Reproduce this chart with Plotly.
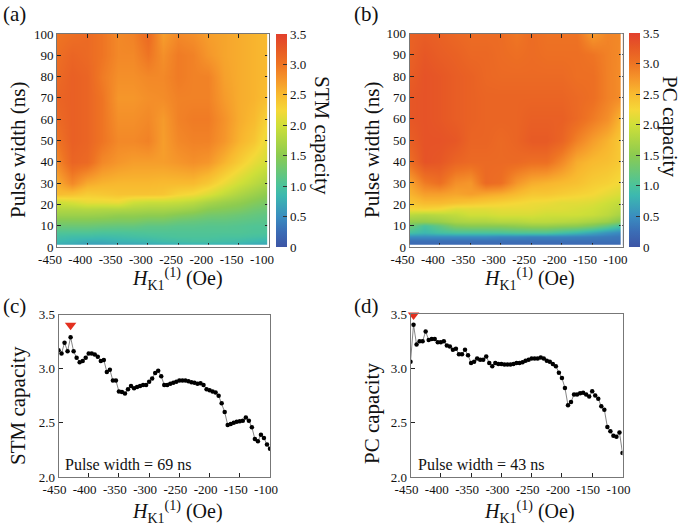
import plotly.graph_objects as go

hk_map = [-450, -425, -400, -375, -350, -325, -300, -275, -250, -225, -200, -175, -150, -125, -100]
pw_map = [1.5, 3, 5, 7, 10, 12, 15, 18, 21, 25, 30, 40, 50, 60, 70, 80, 90, 100]

stm_map = [
    [0.75, 0.72, 0.65, 0.65, 0.70, 0.70, 0.72, 0.75, 0.78, 0.80, 0.80, 0.80, 0.78, 0.72, 0.70],
    [0.85, 0.80, 0.75, 0.75, 0.80, 0.82, 0.85, 0.90, 0.92, 0.95, 0.95, 0.92, 0.90, 0.85, 0.80],
    [0.95, 0.92, 0.92, 0.90, 0.92, 0.95, 0.97, 1.00, 1.02, 1.02, 1.02, 1.00, 1.00, 0.97, 0.95],
    [1.05, 1.05, 1.05, 1.02, 1.02, 1.03, 1.05, 1.05, 1.05, 1.05, 1.05, 1.05, 1.05, 1.03, 1.02],
    [1.25, 1.25, 1.25, 1.22, 1.20, 1.20, 1.15, 1.15, 1.12, 1.12, 1.10, 1.10, 1.08, 1.05, 1.05],
    [1.42, 1.42, 1.42, 1.40, 1.38, 1.38, 1.32, 1.32, 1.25, 1.22, 1.18, 1.18, 1.15, 1.12, 1.10],
    [1.62, 1.62, 1.62, 1.60, 1.55, 1.55, 1.52, 1.52, 1.45, 1.40, 1.32, 1.30, 1.25, 1.20, 1.15],
    [1.78, 1.78, 1.80, 1.78, 1.78, 1.75, 1.72, 1.72, 1.68, 1.62, 1.50, 1.45, 1.40, 1.30, 1.25],
    [1.98, 2.05, 2.15, 2.15, 2.18, 2.00, 1.95, 1.95, 1.92, 1.85, 1.72, 1.62, 1.55, 1.45, 1.35],
    [2.48, 2.45, 2.35, 2.38, 2.42, 2.42, 2.42, 2.40, 2.28, 2.22, 2.08, 1.90, 1.75, 1.62, 1.50],
    [2.60, 2.85, 2.62, 2.55, 2.52, 2.52, 2.52, 2.50, 2.50, 2.50, 2.38, 2.18, 2.00, 1.85, 1.70],
    [2.85, 3.15, 3.10, 2.85, 2.75, 2.70, 2.70, 2.70, 2.75, 2.80, 2.75, 2.55, 2.35, 2.15, 2.00],
    [3.00, 3.20, 3.15, 3.00, 2.85, 2.85, 2.90, 2.70, 2.85, 2.90, 2.90, 2.75, 2.55, 2.40, 2.10],
    [3.10, 3.20, 3.15, 3.00, 2.80, 2.80, 2.85, 2.72, 2.90, 2.95, 2.95, 2.78, 2.60, 2.50, 2.25],
    [3.15, 3.20, 3.15, 3.00, 2.75, 2.75, 2.80, 2.82, 2.90, 2.90, 2.90, 2.72, 2.60, 2.55, 2.45],
    [3.10, 3.20, 3.15, 2.95, 2.80, 2.80, 2.85, 2.85, 2.95, 2.90, 2.90, 2.68, 2.60, 2.55, 2.50],
    [3.05, 3.15, 3.10, 3.00, 2.85, 2.85, 3.00, 2.80, 2.95, 2.90, 2.75, 2.65, 2.60, 2.55, 2.50],
    [3.00, 3.05, 3.10, 3.00, 2.85, 2.90, 3.10, 2.70, 2.85, 2.80, 2.70, 2.65, 2.60, 2.55, 2.50],
]

pc_map = [
    [0.22, 0.22, 0.22, 0.22, 0.22, 0.22, 0.22, 0.22, 0.22, 0.22, 0.22, 0.22, 0.22, 0.22, 0.22],
    [0.28, 0.28, 0.28, 0.28, 0.28, 0.28, 0.28, 0.28, 0.28, 0.28, 0.28, 0.28, 0.28, 0.28, 0.28],
    [0.50, 0.50, 0.50, 0.50, 0.50, 0.50, 0.45, 0.45, 0.42, 0.42, 0.42, 0.40, 0.38, 0.35, 0.32],
    [0.95, 0.85, 0.95, 1.00, 1.00, 1.00, 1.02, 1.05, 1.05, 1.05, 0.95, 0.85, 0.70, 0.55, 0.45],
    [1.30, 1.00, 1.20, 1.45, 1.50, 1.50, 1.50, 1.55, 1.60, 1.60, 1.55, 1.52, 1.40, 1.20, 0.95],
    [1.55, 1.55, 1.60, 1.72, 1.75, 1.75, 1.80, 1.80, 1.85, 1.85, 1.82, 1.78, 1.70, 1.60, 1.40],
    [1.85, 1.80, 1.85, 1.90, 2.00, 2.00, 2.05, 2.05, 2.05, 2.00, 2.00, 2.00, 1.95, 1.85, 1.68],
    [2.25, 2.30, 2.25, 2.10, 2.12, 2.12, 2.15, 2.15, 2.15, 2.10, 2.10, 2.05, 2.00, 1.92, 1.80],
    [2.40, 2.50, 2.50, 2.45, 2.40, 2.35, 2.30, 2.25, 2.20, 2.18, 2.12, 2.12, 2.08, 1.98, 1.88],
    [2.55, 2.70, 2.70, 2.65, 2.70, 2.65, 2.60, 2.50, 2.40, 2.40, 2.35, 2.30, 2.25, 2.15, 2.05],
    [2.65, 2.95, 3.05, 2.80, 2.75, 3.10, 3.05, 2.75, 2.60, 2.55, 2.50, 2.45, 2.35, 2.30, 2.20],
    [3.05, 3.32, 3.28, 3.15, 3.10, 3.10, 3.10, 3.10, 3.05, 3.05, 2.85, 2.60, 2.50, 2.45, 2.35],
    [3.20, 3.32, 3.32, 3.28, 3.15, 3.15, 3.10, 3.15, 3.25, 3.25, 3.15, 2.90, 2.70, 2.55, 2.35],
    [3.28, 3.32, 3.28, 3.22, 3.18, 3.15, 3.15, 3.15, 3.20, 3.20, 3.20, 3.10, 2.95, 2.80, 2.50],
    [3.28, 3.32, 3.28, 3.22, 3.18, 3.15, 3.15, 3.15, 3.15, 3.15, 3.15, 3.10, 3.05, 2.90, 2.80],
    [3.22, 3.32, 3.28, 3.22, 3.18, 3.12, 3.10, 3.10, 3.10, 3.10, 3.10, 3.05, 3.05, 2.90, 2.80],
    [3.18, 3.28, 3.22, 3.18, 3.12, 3.12, 3.08, 3.05, 3.08, 3.05, 3.05, 3.05, 3.00, 2.90, 2.82],
    [3.18, 3.22, 3.18, 3.12, 3.08, 3.08, 3.08, 2.98, 3.08, 3.02, 3.02, 3.02, 2.72, 2.88, 2.85],
]

hk_line = [-450, -445, -440, -435, -430, -425, -420, -415, -410, -405, -400, -395, -390, -385, -380, -375,
           -370, -365, -360, -355, -350, -345, -340, -335, -330, -325, -320, -315, -310, -305, -300, -295,
           -290, -285, -280, -275, -270, -265, -260, -255, -250, -245, -240, -235, -230, -225, -220, -215,
           -210, -205, -200, -195, -190, -185, -180, -175, -170, -165, -160, -155, -150, -145, -140, -135,
           -130, -125, -120, -115, -110, -105, -100]
stm_line = [3.17, 3.14, 3.24, 3.16, 3.29, 3.16, 3.10, 3.06, 3.07, 3.10, 3.14, 3.14, 3.13, 3.11, 3.07, 3.08,
            2.97, 2.99, 2.89, 2.89, 2.79, 2.785, 2.77, 2.81, 2.84, 2.82, 2.83, 2.84, 2.85, 2.85, 2.88, 2.91,
            2.96, 2.98, 2.93, 2.85, 2.85, 2.86, 2.87, 2.88, 2.89, 2.89, 2.89, 2.885, 2.875, 2.87, 2.86, 2.865,
            2.85, 2.81, 2.80, 2.79, 2.78, 2.75, 2.68, 2.60, 2.48, 2.49, 2.50, 2.51, 2.515, 2.52, 2.55, 2.52,
            2.46, 2.35, 2.33, 2.39, 2.36, 2.30, 2.26]
pc_line = [3.06, 3.40, 3.22, 3.25, 3.25, 3.34, 3.26, 3.27, 3.27, 3.24, 3.24, 3.25, 3.21, 3.20, 3.17, 3.18,
           3.13, 3.13, 3.17, 3.12, 3.05, 3.06, 3.09, 3.08, 3.08, 3.11, 3.05, 3.02, 3.05, 3.04, 3.04, 3.035,
           3.035, 3.035, 3.04, 3.05, 3.05, 3.055, 3.07, 3.08, 3.09, 3.09, 3.09, 3.10, 3.09, 3.07, 3.06, 3.04,
           3.02, 2.96, 2.91, 2.82, 2.66, 2.69, 2.76, 2.76, 2.77, 2.775, 2.76, 2.74, 2.79, 2.75, 2.72, 2.65,
           2.62, 2.46, 2.42, 2.38, 2.37, 2.41, 2.22]
stm_peak = ([-430], [3.40])
pc_peak = ([-445], [3.49])

hk_ticks = [-450, -400, -350, -300, -250, -200, -150, -100]
hk_labels = ["-450", "-400", "-350", "-300", "-250", "-200", "-150", "-100"]
pw_ticks = [0, 10, 20, 30, 40, 50, 60, 70, 80, 90, 100]
cap_ticks = [2.0, 2.5, 3.0, 3.5]
cap_labels = ["2.0", "2.5", "3.0", "3.5"]
cb_ticks = [0, 0.5, 1.0, 1.5, 2.0, 2.5, 3.0, 3.5]
cb_labels = ["0", "0.5", "1.0", "1.5", "2.0", "2.5", "3.0", "3.5"]

W, H = 685, 526
FONT = "Liberation Serif"
SCALE = [[0, "#3d55a5"], [0.07, "#3b6cb5"], [0.14, "#3a8cc0"], [0.24, "#3cb8b0"], [0.29, "#4cc39a"],
         [0.43, "#8ccb50"], [0.57, "#cfdf38"], [0.64, "#f5d838"], [0.72, "#f8b82f"], [0.79, "#f5942a"],
         [0.86, "#ee7323"], [0.93, "#e75a25"], [1, "#e2402d"]]
HK_TITLE = "<i>H</i><sub>K1</sub><sup>(1)</sup> (Oe)"


def xd(a, b):
    return [a / W, b / W]


def yd(top, bottom):
    return [1 - bottom / H, 1 - top / H]


fig = go.Figure()


def cbar(left, top, bottom):
    return dict(x=left / W, xanchor="left", xpad=0, y=1 - bottom / H, yanchor="bottom", ypad=0,
                len=bottom - top, lenmode="pixels", thickness=11, thicknessmode="pixels",
                outlinewidth=0, ticks="inside", ticklen=4, tickcolor="#333", tickwidth=1,
                tickmode="array", tickvals=cb_ticks, ticktext=cb_labels, ticklabelposition="outside",
                tickfont=dict(family=FONT, size=13, color="#111"))


fig.add_trace(go.Heatmap(x=hk_map, y=pw_map, z=stm_map, zmin=0, zmax=3.5, zsmooth="best", colorscale=SCALE,
                         colorbar=cbar(276, 34, 247), xaxis="x", yaxis="y", hoverinfo="skip"))
fig.add_trace(go.Heatmap(x=hk_map, y=pw_map, z=pc_map, zmin=0, zmax=3.5, zsmooth="best", colorscale=SCALE,
                         colorbar=cbar(629, 33.5, 247), xaxis="x2", yaxis="y2", hoverinfo="skip"))

for y_vals, peak, xa, ya in [(stm_line, stm_peak, "x3", "y3"), (pc_line, pc_peak, "x4", "y4")]:
    fig.add_trace(go.Scatter(x=hk_line, y=y_vals, mode="lines+markers", xaxis=xa, yaxis=ya, showlegend=False,
                             line=dict(color="#666", width=0.8), marker=dict(color="#000", size=4.5)))
    fig.add_trace(go.Scatter(x=peak[0], y=peak[1], mode="markers", xaxis=xa, yaxis=ya, showlegend=False,
                             cliponaxis=False, marker=dict(symbol="triangle-down", color="#e3301f", size=10)))


def axes(xdom, ydom, yticks, ylabels, yrange, mirror, shift):
    common = dict(showgrid=False, zeroline=False, showline=True, linecolor="#777", linewidth=1, ticks="inside",
                  ticklen=4, tickcolor="#222", tickwidth=1, mirror=mirror,
                  tickfont=dict(family=FONT, size=13, color="#111"))
    xa = dict(common, domain=xdom, range=[-450, -100], tickmode="array", tickvals=hk_ticks, ticktext=hk_labels,
              ticklabelshift=shift)
    ya = dict(common, domain=ydom, range=yrange, tickmode="array", tickvals=yticks, ticktext=ylabels)
    return xa, ya


P_T = [str(v) for v in pw_ticks]
xa1, ya1 = axes(xd(57, 269), yd(34, 247), pw_ticks, P_T, [0, 100], "ticks", -7)
xa2, ya2 = axes(xd(409.5, 622.5), yd(33.5, 247), pw_ticks, P_T, [0, 100], "ticks", -7)
xa3, ya3 = axes(xd(58.5, 270), yd(314.5, 477), cap_ticks, cap_labels, [2.0, 3.5], True, -4)
xa4, ya4 = axes(xd(410.5, 622.5), yd(314, 477), cap_ticks, cap_labels, [2.0, 3.5], True, -4)

ann = []


def text(x, y, s, size=20, angle=0, anchor="center"):
    ann.append(dict(x=x / W, y=1 - y / H, xref="paper", yref="paper", text=s, showarrow=False, textangle=angle,
                    xanchor=anchor, yanchor="middle", font=dict(family=FONT, size=size, color="#111")))


text(1, 14, "(a)", 21, anchor="left")
text(352, 14, "(b)", 21, anchor="left")
text(1, 306, "(c)", 21, anchor="left")
text(352, 306, "(d)", 21, anchor="left")
text(18, 150, "Pulse width (ns)", 21, -90)
text(372, 150, "Pulse width (ns)", 21, -90)
text(322, 135, "STM capacity", 21, 90)
text(670, 126, "PC capacity", 21, 90)
text(18, 406, "STM capacity", 21, -90)
text(372, 414, "PC capacity", 21, -90)
text(177, 279, HK_TITLE, 20)
text(529, 279, HK_TITLE, 20)
text(177, 512, HK_TITLE, 20)
text(529, 512, HK_TITLE, 20)
text(63, 464, "Pulse width = 69 ns", 16, anchor="left")
text(416, 464, "Pulse width = 43 ns", 16, anchor="left")

covers = []
for xr, yr in [("x", "y"), ("x2", "y2")]:
    covers.append(dict(type="rect", xref=xr, yref=yr, x0=-103, x1=-100, y0=0, y1=100,
                       fillcolor="white", line_width=0, layer="above"))
    covers.append(dict(type="rect", xref=xr, yref=yr, x0=-450, x1=-100, y0=0, y1=1,
                       fillcolor="white", line_width=0, layer="above"))

fig.update_layout(width=W, height=H, margin=dict(l=0, r=0, t=0, b=0, autoexpand=False),
                  paper_bgcolor="white", plot_bgcolor="white", showlegend=False,
                  xaxis=dict(xa1, anchor="y"), yaxis=dict(ya1, anchor="x"),
                  xaxis2=dict(xa2, anchor="y2"), yaxis2=dict(ya2, anchor="x2"),
                  xaxis3=dict(xa3, anchor="y3"), yaxis3=dict(ya3, anchor="x3"),
                  xaxis4=dict(xa4, anchor="y4"), yaxis4=dict(ya4, anchor="x4"),
                  annotations=ann, shapes=covers)

fig.write_html("out.html", config={"displayModeBar": False},
               post_script="document.body.style.margin='0';")
